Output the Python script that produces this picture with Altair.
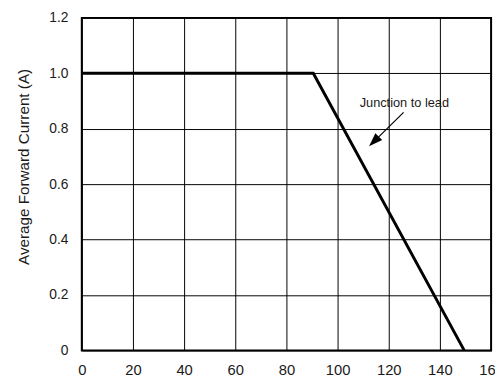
import altair as alt
import pandas as pd

# Derating curve
temp = [0, 90.5, 149.5]
current = [1.0, 1.0, 0.0]

x_ticks = [0, 20, 40, 60, 80, 100, 120, 140, 160]
y_ticks = [0, 0.2, 0.4, 0.6, 0.8, 1.0, 1.2]

label_text = ["Junction to lead"]
label_x = [126.1]
label_y = [0.892]

arrow_x = [125.8, 114.4]
arrow_y = [0.859, 0.755]
head_x = [114.2]
head_y = [0.754]

FONT = "Liberation Sans"
TXT = "#1a1a1a"

curve = pd.DataFrame({"t": temp, "i": current})
x_scale = alt.Scale(domain=[0, 160], nice=False, zero=False)
y_scale = alt.Scale(domain=[0, 1.2], nice=False, zero=False)

base_x = alt.X(
    "t:Q", scale=x_scale,
    axis=alt.Axis(values=x_ticks, title=None, grid=True, gridColor="black",
                  gridWidth=1, gridOpacity=1, domain=False, ticks=False,
                  labelPadding=12, labelFontSize=15, labelFont=FONT,
                  labelColor=TXT, labelFlush=False),
)
base_y = alt.Y(
    "i:Q", scale=y_scale,
    axis=alt.Axis(values=y_ticks, title="Average Forward Current (A)",
                  titleFontSize=15.5, titleFont=FONT, titleFontWeight="normal",
                  titleColor=TXT, titleX=-59, titleY=151, titleAngle=270,
                  titleAlign="center", titleBaseline="middle",
                  grid=True, gridColor="black", gridWidth=1, gridOpacity=1,
                  domain=False, ticks=False, labelPadding=14, labelFontSize=14,
                  labelFont=FONT, labelColor=TXT, labelFlush=False,
                  labelExpr="datum.value == 0 ? '0' : format(datum.value, '.1f')"),
)

line = alt.Chart(curve).mark_line(color="black", strokeWidth=3).encode(x=base_x, y=base_y)

lab = pd.DataFrame({"t": label_x, "i": label_y, "s": label_text})
text = alt.Chart(lab).mark_text(font=FONT, fontSize=13, color=TXT, align="center",
                                baseline="middle").encode(
    x=alt.X("t:Q", scale=x_scale), y=alt.Y("i:Q", scale=y_scale), text="s:N")

arr = pd.DataFrame({"t": arrow_x, "i": arrow_y})
arrow = alt.Chart(arr).mark_line(color="black", strokeWidth=1.2).encode(
    x=alt.X("t:Q", scale=x_scale), y=alt.Y("i:Q", scale=y_scale))

hd = pd.DataFrame({"t": head_x, "i": head_y})
head = alt.Chart(hd).mark_point(
    shape="M0,-1L0.7,1L-0.7,1Z", filled=True, color="black", opacity=1,
    size=196, angle=225).encode(
    x=alt.X("t:Q", scale=x_scale), y=alt.Y("i:Q", scale=y_scale))

chart = alt.layer(line, arrow, head, text).properties(
    width=416, height=338,
    autosize=alt.AutoSizeParams(type="none"),
    padding={"left": 75, "top": 7, "right": 4, "bottom": 24},
    background="white",
).configure_view(stroke="black", strokeWidth=2)

chart.save("out.html", embed_options={"renderer": "svg", "actions": False})
